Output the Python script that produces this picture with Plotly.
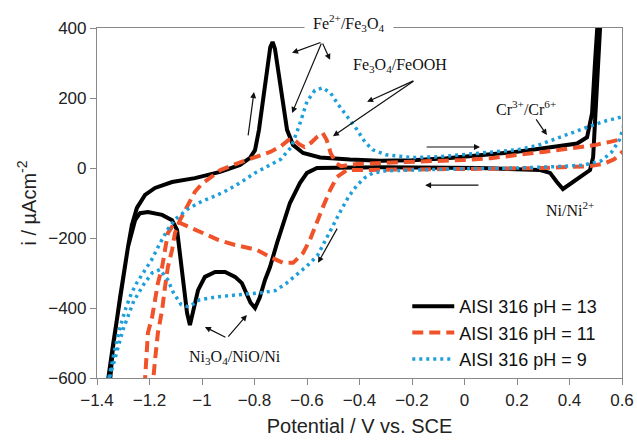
import plotly.graph_objects as go

# ---- pH 13 (black) : anodic sweep then cathodic sweep ----
e13 = [-1.36, -1.358, -1.339, -1.320, -1.301, -1.282, -1.267, -1.248, -1.217, -1.179, -1.114, -1.027,
       -0.931, -0.855, -0.817, -0.798, -0.783, -0.768, -0.752, -0.740, -0.731, -0.722, -0.714, -0.691,
       -0.676, -0.653, -0.615, -0.550, -0.436, -0.322, -0.200, -0.067, 0.050, 0.185, 0.314, 0.429,
       0.467, 0.486, 0.497, 0.505, 0.510,
       0.520, 0.516, 0.505, 0.490, 0.478, 0.440, 0.402, 0.375, 0.352, 0.326, 0.288, 0.059, -0.322,
       -0.450, -0.562, -0.600, -0.627, -0.665, -0.691, -0.714, -0.741, -0.760, -0.780, -0.798, -0.815,
       -0.825, -0.848, -0.874, -0.912, -0.950, -0.989, -1.015, -1.034, -1.046, -1.057, -1.072, -1.084,
       -1.095, -1.114, -1.152, -1.206, -1.236, -1.255, -1.282, -1.312, -1.339, -1.350, -1.355]
i13 = [-640, -606, -506, -414, -306, -226, -163, -114, -77, -57, -40, -29,
       -11, 9, 29, 51, 109, 194, 294, 345, 360, 340, 300, 174,
       109, 66, 43, 30, 24, 21, 22, 28, 35, 45, 58, 70,
       88, 157, 300, 394, 450,
       450, 394, 203, 31, -6, -26, -49, -60, -40, -14, -6, 0, 2,
       2, 0, -14, -43, -100, -157, -214, -283, -320, -370, -400, -385,
       -369, -329, -311, -297, -297, -311, -349, -414, -449, -414, -320, -226,
       -177, -149, -134, -126, -129, -149, -226, -369, -511, -606, -640]

# ---- pH 11 (red dashed) ----
e11 = [-1.19, -1.187, -1.179, -1.168, -1.152, -1.141, -1.130, -1.114, -1.103, -1.084, -1.065, -1.046,
       -1.027, -1.000, -0.980, -0.930, -0.870, -0.800, -0.740, -0.700, -0.670, -0.650, -0.630, -0.610,
       -0.585, -0.560, -0.540, -0.525, -0.510, -0.490, -0.470, -0.440, -0.400, -0.300, -0.200, -0.100,
       0.000, 0.100, 0.200, 0.300, 0.400, 0.450, 0.500, 0.550, 0.600, 0.630,
       0.630, 0.600, 0.570, 0.530, 0.470, 0.400, 0.300, 0.100, -0.100, -0.300, -0.400, -0.448,
       -0.486, -0.512, -0.539, -0.562, -0.589, -0.615, -0.653, -0.691, -0.741, -0.790, -0.820, -0.874,
       -0.939, -1.000, -1.046, -1.084, -1.103, -1.110, -1.130, -1.141, -1.152, -1.168, -1.179, -1.190,
       -1.206, -1.210, -1.217, -1.220]
i11 = [-640, -606, -549, -471, -406, -340, -283, -234, -186, -149, -120, -91,
       -68, -45, -34, -6, 12, 29, 46, 62, 80, 82, 68, 60,
       72, 90, 100, 80, 43, 14, 5, 9, 12, 15, 17, 20,
       23, 28, 36, 46, 56, 60, 66, 74, 82, 88,
       60, 45, 25, 12, 5, 2, 0, -2, -4, -5, -5, -6,
       -26, -63, -111, -157, -206, -243, -271, -271, -254, -234, -229, -220,
       -205, -186, -169, -157, -157, -163, -186, -234, -283, -329, -377, -426,
       -471, -520, -606, -640]

# ---- pH 9 (blue dotted) ----
e9 = [-1.36, -1.350, -1.330, -1.310, -1.290, -1.270, -1.250, -1.220, -1.190, -1.160, -1.130, -1.100,
      -1.050, -1.000, -0.950, -0.900, -0.850, -0.800, -0.750, -0.700, -0.660, -0.630, -0.600, -0.570,
      -0.540, -0.510, -0.480, -0.440, -0.410, -0.380, -0.350, -0.300, -0.200, -0.100, 0.000, 0.100,
      0.200, 0.280, 0.350, 0.420, 0.480, 0.540, 0.580, 0.600,
      0.610, 0.605, 0.590, 0.560, 0.520, 0.450, 0.350, 0.200, 0.000, -0.200, -0.300, -0.350,
      -0.380, -0.410, -0.440, -0.470, -0.500, -0.530, -0.560, -0.600, -0.640, -0.680, -0.720, -0.780,
      -0.860, -0.950, -1.010, -1.050, -1.080, -1.110, -1.130, -1.160, -1.190, -1.220, -1.260, -1.300,
      -1.330, -1.360]
i9 = [-620, -580, -510, -450, -400, -360, -330, -295, -260, -215, -175, -145,
      -115, -95, -80, -62, -40, -15, 5, 25, 60, 120, 190, 222,
      229, 214, 180, 140, 110, 75, 52, 38, 30, 32, 38, 44,
      52, 65, 85, 105, 120, 135, 143, 146,
      140, 115, 80, 45, 20, 8, 4, 0, -2, -5, -8, -15,
      -28, -50, -80, -120, -165, -210, -250, -280, -305, -330, -350, -357,
      -362, -369, -377, -397, -390, -355, -320, -290, -300, -330, -380, -460,
      -540, -620]

names = ["AISI 316 pH = 13", "AISI 316 pH = 11", "AISI 316 pH = 9"]
colors = ["#000000", "#F0522A", "#1E9FDC"]

fig = go.Figure()
fig.add_trace(go.Scatter(x=e13, y=i13, mode="lines", name=names[0],
                         line=dict(color=colors[0], width=4)))
fig.add_trace(go.Scatter(x=e11, y=i11, mode="lines", name=names[1],
                         line=dict(color=colors[1], width=4, dash="11px,6px")))
fig.add_trace(go.Scatter(x=e9, y=i9, mode="lines", name=names[2],
                         line=dict(color=colors[2], width=3.5, dash="3px,4px")))

serif = dict(family="Liberation Serif, Times New Roman, serif", size=16, color="#111")
ann = []
# labels
ann.append(dict(x=-0.44, y=1.014, yanchor="middle", text="Fe<sup>2+</sup>/Fe<sub>3</sub>O<sub>4</sub>",
                showarrow=False, font=serif, bgcolor="white", borderpad=8, xref="x", yref="paper"))
ann.append(dict(x=-0.246, y=292, text="Fe<sub>3</sub>O<sub>4</sub>/FeOOH", showarrow=False,
                font=serif, xref="x", yref="y"))
ann.append(dict(x=0.234, y=172, text="Cr<sup>3+</sup>/Cr<sup>6+</sup>", showarrow=False,
                font=serif, xref="x", yref="y"))
ann.append(dict(x=0.402, y=-116, text="Ni/Ni<sup>2+</sup>", showarrow=False,
                font=serif, xref="x", yref="y"))
ann.append(dict(x=-0.874, y=-540, text="Ni<sub>3</sub>O<sub>4</sub>/NiO/Ni", showarrow=False,
                font=serif, xref="x", yref="y"))

# arrows: (tail_x, tail_y, head_x, head_y)
arrows = [(-0.543, 360, -0.657, 329), (-0.543, 360, -0.512, 309), (-0.543, 360, -0.657, 157),
          (-0.189, 251, -0.371, 189), (-0.189, 251, -0.501, 91),
          (0.269, 143, 0.314, 94),
          (-0.905, -486, -0.989, -454), (-0.905, -486, -0.829, -420),
          (-0.825, 89, -0.802, 217),
          (-0.150, 60, 0.059, 60),
          (0.059, -49, -0.150, -49),
          (-0.482, -169, -0.558, -271)]
for tx, ty, hx, hy in arrows:
    ann.append(dict(x=hx, y=hy, ax=tx, ay=ty, xref="x", yref="y", axref="x", ayref="y",
                    text="", showarrow=True, arrowhead=2, arrowsize=1, arrowwidth=1.2,
                    arrowcolor="#111"))

fig.update_layout(
    width=637, height=440,
    margin=dict(l=97, r=15, t=28, b=62, autoexpand=False),
    paper_bgcolor="white", plot_bgcolor="white",
    font=dict(family="Liberation Sans, Arial, sans-serif", size=17, color="#222"),
    annotations=ann,
    showlegend=True,
    legend=dict(x=0.591, y=0.0, xanchor="left", yanchor="bottom",
                font=dict(size=18, color="#111"), bgcolor="rgba(0,0,0,0)",
                itemwidth=42, tracegroupgap=0),
)
fig.update_xaxes(range=[-1.4, 0.6], dtick=0.2, tick0=-1.4, showgrid=False, zeroline=False,
                 showline=True, linecolor="#888", linewidth=1.2, mirror=True, automargin=False,
                 ticks="outside", ticklen=6, tickcolor="#888",
                 title=dict(text="Potential / V vs. SCE", font=dict(size=20), standoff=10))
fig.update_yaxes(range=[-600, 400], dtick=200, showgrid=False, zeroline=False,
                 showline=True, linecolor="#888", linewidth=1.2, mirror=True, automargin=False,
                 ticks="outside", ticklen=6, tickcolor="#888",
                 title=dict(text="i / µAcm<sup>-2</sup>", font=dict(size=20), standoff=6))

fig.write_html("out.html")
